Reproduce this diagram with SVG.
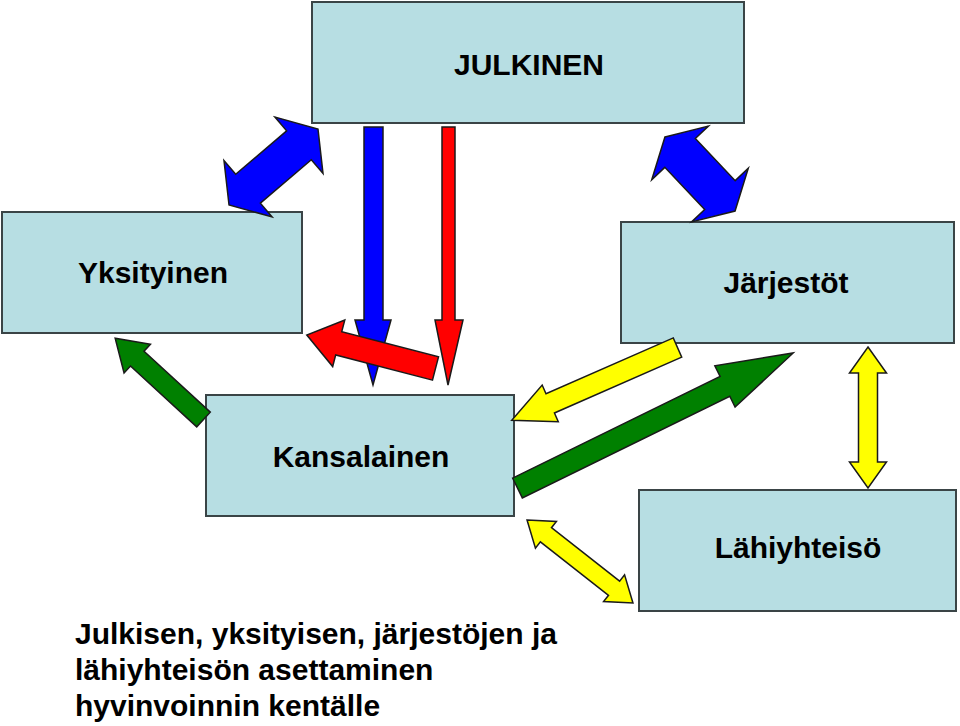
<svg xmlns="http://www.w3.org/2000/svg" width="960" height="726" viewBox="0 0 960 726">
<style>
.box{fill:#B7DEE3;stroke:#3a4446;stroke-width:2}
.lbl{font-family:"Liberation Sans",Arial,sans-serif;font-weight:bold;font-size:30px;fill:#000;text-anchor:middle}
.cap{font-family:"Liberation Sans",Arial,sans-serif;font-weight:bold;font-size:30px;fill:#000}
.arr{stroke:#1a1a1a;stroke-width:1.5;stroke-linejoin:miter}
.blue{fill:#0000FF}.red{fill:#FF0000}.green{fill:#008000}.yellow{fill:#FFFF00}
</style>
<rect width="960" height="726" fill="#fff"/>
<g id="julkinen"><rect class="box" x="312" y="2" width="432" height="121"/><text class="lbl" x="529" y="75">JULKINEN</text></g>
<g id="yksityinen"><rect class="box" x="2" y="212" width="300" height="121"/><text class="lbl" x="153" y="283">Yksityinen</text></g>
<g id="jarjestot"><rect class="box" x="621" y="222" width="333" height="121"/><text class="lbl" x="786" y="293">Järjestöt</text></g>
<g id="kansalainen"><rect class="box" x="206" y="395" width="308" height="121"/><text class="lbl" x="361" y="467">Kansalainen</text></g>
<g id="lahiyhteiso"><rect class="box" x="639" y="490" width="317" height="121"/><text class="lbl" x="798" y="558">Lähiyhteisö</text></g>
<g id="connectors">
<polygon class="arr blue" transform="translate(273.5,167) rotate(-40.5)" points="-58.5,0 -33.5,-37 -33.5,-19 33.5,-19 33.5,-37 58.5,0 33.5,37 33.5,19 -33.5,19 -33.5,37"/>
<polygon class="arr blue" transform="translate(700,174) rotate(46.6)" points="-51,0 -29,-39 -29,-21 29,-21 29,-39 51,0 29,39 29,21 -29,21 -29,39"/>
<polygon class="arr blue" points="364,127 383,127 383,320 391,320 373,385 355,320 364,320"/>
<polygon class="arr red" transform="translate(435.5,368.5) rotate(194.6)" points="0,-12 100,-12 100,-24 133,0 100,24 100,12 0,12"/>
<polygon class="arr red" points="442,127 455,127 455,320 463,320 448,385 435,320 442,320"/>
<polygon class="arr green" transform="translate(203.5,419.5) rotate(222.6)" points="0,-10 90,-10 90,-19.5 120,0 90,19.5 90,10 0,10"/>
<polygon class="arr yellow" transform="translate(677.5,347.5) rotate(156.3)" points="0,-10.5 139,-10.5 139,-20 181,0 139,20 139,10.5 0,10.5"/>
<polygon class="arr green" transform="translate(517.5,488) rotate(-26.1)" points="0,-11 231,-11 231,-23 307,0 231,23 231,11 0,11"/>
<polygon class="arr yellow" points="868,347 886.5,373 877.5,373 877.5,462 886.5,462 868,488 849.5,462 858.5,462 858.5,373 849.5,373"/>
<polygon class="arr yellow" transform="translate(580,561.5) rotate(38.1)" points="-67.3,0 -43.3,-17 -43.3,-9 43.3,-9 43.3,-17 67.3,0 43.3,17 43.3,9 -43.3,9 -43.3,17"/>
</g>
<g id="caption">
<text class="cap" x="75" y="644">Julkisen, yksityisen, järjestöjen ja</text>
<text class="cap" x="75" y="680">lähiyhteisön asettaminen</text>
<text class="cap" x="75" y="716">hyvinvoinnin kentälle</text>
</g>
</svg>
